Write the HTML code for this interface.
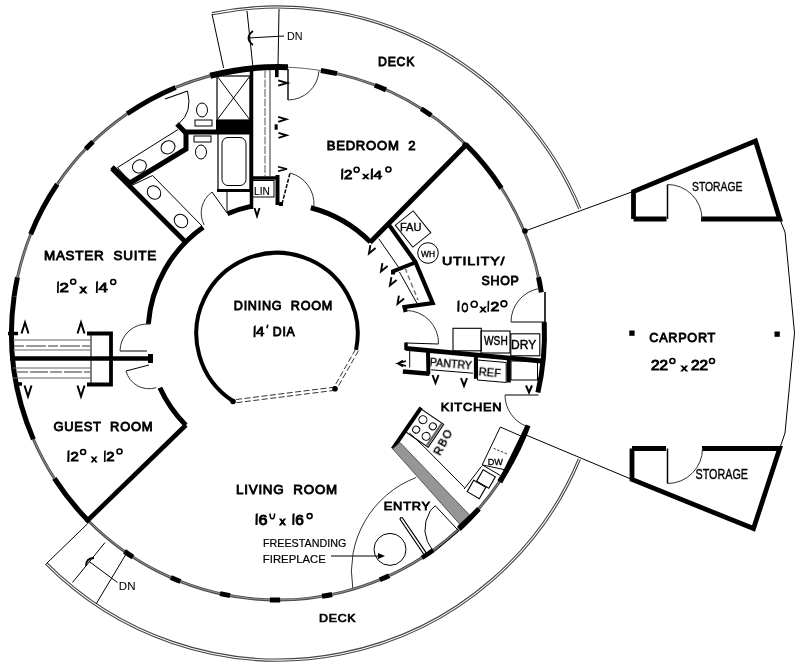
<!DOCTYPE html>
<html><head><meta charset="utf-8"><style>
html,body{margin:0;padding:0;background:#fff;}
svg{display:block;font-family:"Liberation Sans",sans-serif;}
text{will-change:transform;}
</style></head><body>
<svg width="800" height="663" viewBox="0 0 800 663">
<path d="M212.27 14.81A325.4 325.4 0 0 1 578.69 209.13" stroke="#444" stroke-width="1.1" fill="none" />
<path d="M578.34 458.72A325.4 325.4 0 0 1 46.92 562.60" stroke="#444" stroke-width="1.1" fill="none" />
<path d="M211.83 12.65A327.6 327.6 0 0 1 580.73 208.29" stroke="#444" stroke-width="1.1" fill="none" />
<path d="M580.37 459.57A327.6 327.6 0 0 1 45.36 564.15" stroke="#444" stroke-width="1.1" fill="none" />
<path d="M88.81 521.20A266.5 266.5 0 0 1 54.37 478.46" stroke="#000" stroke-width="5" fill="none" />
<path d="M54.37 478.46A266.5 266.5 0 0 1 33.44 439.38" stroke="#4d4d4d" stroke-width="2.9" fill="none" />
<path d="M54.37 478.46A266.5 266.5 0 0 1 33.44 439.38" stroke="#9a9a9a" stroke-width="0.9" fill="none" />
<path d="M33.44 439.38A266.5 266.5 0 0 1 14.12 296.23" stroke="#000" stroke-width="5" fill="none" />
<path d="M14.12 296.23A266.5 266.5 0 0 1 17.49 277.32" stroke="#000" stroke-width="5" fill="none" />
<path d="M17.49 277.32A266.5 266.5 0 0 1 30.66 234.27" stroke="#4d4d4d" stroke-width="2.9" fill="none" />
<path d="M17.49 277.32A266.5 266.5 0 0 1 30.66 234.27" stroke="#9a9a9a" stroke-width="0.9" fill="none" />
<path d="M30.66 234.27A266.5 266.5 0 0 1 57.26 184.18" stroke="#000" stroke-width="5" fill="none" />
<path d="M57.26 184.18A266.5 266.5 0 0 1 127.21 113.76" stroke="#4d4d4d" stroke-width="2.9" fill="none" />
<path d="M57.26 184.18A266.5 266.5 0 0 1 127.21 113.76" stroke="#9a9a9a" stroke-width="0.9" fill="none" />
<path d="M127.21 113.76A266.5 266.5 0 0 1 175.61 87.46" stroke="#000" stroke-width="5" fill="none" />
<path d="M175.61 87.46A266.5 266.5 0 0 1 210.20 75.77" stroke="#4d4d4d" stroke-width="2.9" fill="none" />
<path d="M175.61 87.46A266.5 266.5 0 0 1 210.20 75.77" stroke="#9a9a9a" stroke-width="0.9" fill="none" />
<path d="M210.20 75.77A266.5 266.5 0 0 1 287.96 67.19" stroke="#000" stroke-width="6" fill="none" />
<path d="M287.96 67.19A266.5 266.5 0 0 1 320.84 70.47" stroke="#666" stroke-width="1" fill="none" />
<path d="M320.84 70.47A266.5 266.5 0 0 1 337.08 73.63" stroke="#000" stroke-width="5" fill="none" />
<path d="M337.08 73.63A266.5 266.5 0 0 1 465.69 144.30" stroke="#4d4d4d" stroke-width="2.9" fill="none" />
<path d="M337.08 73.63A266.5 266.5 0 0 1 465.69 144.30" stroke="#9a9a9a" stroke-width="0.9" fill="none" />
<path d="M465.69 144.30A266.5 266.5 0 0 1 501.49 188.33" stroke="#000" stroke-width="5" fill="none" />
<path d="M501.49 188.33A266.5 266.5 0 0 1 538.47 277.12" stroke="#4d4d4d" stroke-width="2.9" fill="none" />
<path d="M501.49 188.33A266.5 266.5 0 0 1 538.47 277.12" stroke="#9a9a9a" stroke-width="0.9" fill="none" />
<path d="M538.47 277.12A266.5 266.5 0 0 1 541.29 292.27" stroke="#000" stroke-width="5" fill="none" />
<path d="M544.25 322.03A266.5 266.5 0 0 1 537.88 392.52" stroke="#000" stroke-width="5" fill="none" />
<path d="M528.15 425.42A266.5 266.5 0 0 1 499.51 481.67" stroke="#000" stroke-width="5" fill="none" />
<path d="M499.51 481.67A266.5 266.5 0 0 1 478.75 508.78" stroke="#4d4d4d" stroke-width="2.9" fill="none" />
<path d="M499.51 481.67A266.5 266.5 0 0 1 478.75 508.78" stroke="#9a9a9a" stroke-width="0.9" fill="none" />
<path d="M478.75 508.78A266.5 266.5 0 0 1 459.01 529.09" stroke="#000" stroke-width="5" fill="none" />
<path d="M459.01 529.09A266.5 266.5 0 0 1 433.32 550.06" stroke="#4d4d4d" stroke-width="2.9" fill="none" />
<path d="M459.01 529.09A266.5 266.5 0 0 1 433.32 550.06" stroke="#9a9a9a" stroke-width="0.9" fill="none" />
<path d="M433.32 550.06A266.5 266.5 0 0 1 421.88 557.82" stroke="#000" stroke-width="4.5" fill="none" />
<path d="M421.88 557.82A266.5 266.5 0 0 1 88.81 521.20" stroke="#4d4d4d" stroke-width="2.9" fill="none" />
<path d="M421.88 557.82A266.5 266.5 0 0 1 88.81 521.20" stroke="#9a9a9a" stroke-width="0.9" fill="none" />
<path d="M85.73 148.96A266.5 266.5 0 0 1 92.95 141.72" stroke="#000" stroke-width="5" fill="none" />
<path d="M132.95 557.07A266.5 266.5 0 0 1 124.48 551.34" stroke="#000" stroke-width="5" fill="none" />
<path d="M180.35 581.46A266.5 266.5 0 0 1 170.90 577.53" stroke="#000" stroke-width="5" fill="none" />
<path d="M230.09 595.66A266.5 266.5 0 0 1 220.06 593.63" stroke="#000" stroke-width="5" fill="none" />
<path d="M280.12 599.99A266.5 266.5 0 0 1 269.88 599.88" stroke="#000" stroke-width="5" fill="none" />
<path d="M332.10 594.45A266.5 266.5 0 0 1 322.05 596.34" stroke="#000" stroke-width="5" fill="none" />
<path d="M389.15 575.72A266.5 266.5 0 0 1 379.77 579.80" stroke="#000" stroke-width="5" fill="none" />
<path d="M374.82 85.21A266.5 266.5 0 0 1 385.98 89.86" stroke="#000" stroke-width="5" fill="none" />
<path d="M421.22 108.76A266.5 266.5 0 0 1 431.27 115.49" stroke="#000" stroke-width="5" fill="none" />
<circle cx="525" cy="231" r="2.8"/>
<circle cx="465" cy="145" r="2.8"/>
<path d="M203.15 227.21A130 130 0 0 0 148.36 323.88" stroke="#000" stroke-width="5" fill="none" />
<path d="M159.87 387.76A130 130 0 0 0 185.83 425.17" stroke="#000" stroke-width="5" fill="none" />
<path d="M227.33 213.78A130 130 0 0 1 250.76 206.39" stroke="#000" stroke-width="5" fill="none" />
<path d="M310.81 207.71A130 130 0 0 1 370.42 242.08" stroke="#000" stroke-width="5" fill="none" />
<path d="M233.16 401.25A80.7 80.7 0 1 1 356.04 349.80" stroke="#000" stroke-width="4" fill="none" />
<path d="M355.61 349.21 L333.61 387.91" stroke="#333" stroke-width="1" fill="none" stroke-dasharray="6 2.5"/>
<path d="M358.39 350.79 L336.39 389.49" stroke="#333" stroke-width="1" fill="none" stroke-dasharray="6 2.5"/>
<path d="M334.80 387.11 L232.80 399.91" stroke="#333" stroke-width="1" fill="none" stroke-dasharray="6 2.5"/>
<path d="M335.20 390.29 L233.20 403.09" stroke="#333" stroke-width="1" fill="none" stroke-dasharray="6 2.5"/>
<circle cx="233" cy="401.5" r="2.8"/>
<circle cx="335" cy="388.7" r="2.8"/>
<path d="M10.00 358.50 L152.00 358.50" stroke="#000" stroke-width="4.6" fill="none" />
<path d="M148 354 L153 354 L153 363 L148 363 Z"/>
<path d="M8.00 333.50 L18.00 333.50" stroke="#000" stroke-width="3.5" fill="none" />
<path d="M15.00 384.00 L22.00 384.00" stroke="#000" stroke-width="3.5" fill="none" />
<path d="M87.00 333.50 L111.00 333.50 L111.00 384.50 L87.00 384.50" stroke="#000" stroke-width="3.8" fill="none" />
<path d="M91.00 335.00 L91.00 383.00" stroke="#000" stroke-width="1" fill="none" />
<path d="M13.00 340.00 L91.00 340.00" stroke="#666" stroke-width="1" fill="none" />
<path d="M13.00 350.00 L91.00 350.00" stroke="#666" stroke-width="1" fill="none" />
<path d="M13.00 368.00 L91.00 368.00" stroke="#666" stroke-width="1" fill="none" />
<path d="M13.00 378.00 L91.00 378.00" stroke="#666" stroke-width="1" fill="none" />
<path d="M14.00 346.00 L90.00 346.00" stroke="#777" stroke-width="1.6" fill="none" stroke-dasharray="10 2 20 2"/>
<path d="M16.00 372.00 L90.00 372.00" stroke="#777" stroke-width="1.6" fill="none" stroke-dasharray="12 2 18 2"/>
<path d="M21.5 322.5 L25.0 333.5 L28.5 322.5" stroke="#000" stroke-width="2" fill="none" stroke-linejoin="miter" transform="rotate(180 25 328)"/>
<path d="M77.5 322.5 L81.0 333.5 L84.5 322.5" stroke="#000" stroke-width="2" fill="none" stroke-linejoin="miter" transform="rotate(180 81 328)"/>
<path d="M24.5 385.5 L28.0 396.5 L31.5 385.5" stroke="#000" stroke-width="2" fill="none" stroke-linejoin="miter" transform="rotate(0 28 391)"/>
<path d="M77.5 385.5 L81.0 396.5 L84.5 385.5" stroke="#000" stroke-width="2" fill="none" stroke-linejoin="miter" transform="rotate(0 81 391)"/>
<path d="M147.00 351.00 L120.00 351.00" stroke="#000" stroke-width="1" fill="none" />
<path d="M120.00 351.00A27.0 27.0 0 0 1 149.98 324.17" stroke="#333" stroke-width="1" fill="none" />
<path d="M149.00 365.00 L126.00 371.00" stroke="#000" stroke-width="1" fill="none" />
<path d="M126.00 371.00A23.769728648009426 23.769728648009426 0 0 0 156.24 387.64" stroke="#333" stroke-width="1" fill="none" />
<path d="M186.00 425.00 L86.00 522.00" stroke="#000" stroke-width="4.6" fill="none" />
<path d="M112.00 168.50 L185.00 241.50" stroke="#000" stroke-width="4.8" fill="none" />
<path d="M177.00 124.00 L185.00 132.00 L251.00 132.00" stroke="#000" stroke-width="5" fill="none" />
<path d="M186.00 130.00 L186.00 149.00 L130.00 183.00" stroke="#000" stroke-width="5" fill="none" />
<path d="M112.00 167.00 L131.00 184.00" stroke="#000" stroke-width="5" fill="none" />
<path d="M117.50 167.50 L178.00 129.50" stroke="#000" stroke-width="1" fill="none" />
<path d="M117.50 167.50 L131.00 183.00" stroke="#000" stroke-width="1" fill="none" />
<ellipse cx="139.4" cy="166.4" rx="7.2" ry="6.3" transform="rotate(-33 139.4 166.4)" fill="none" stroke="#000" stroke-width="1"/>
<ellipse cx="168" cy="147.3" rx="7.2" ry="6.3" transform="rotate(-33 168 147.3)" fill="none" stroke="#000" stroke-width="1"/>
<path d="M131.60 185.50 L152.50 175.50 L202.00 226.00" stroke="#000" stroke-width="1" fill="none" />
<ellipse cx="154" cy="192.5" rx="7.2" ry="6.3" transform="rotate(45 154 192.5)" fill="none" stroke="#000" stroke-width="1"/>
<ellipse cx="181" cy="221" rx="7.2" ry="6.3" transform="rotate(45 181 221)" fill="none" stroke="#000" stroke-width="1"/>
<path d="M165.00 99.00 L187.50 91.00" stroke="#000" stroke-width="1.2" fill="none" />
<path d="M187.5 91 Q193 112 178.5 124" stroke="#000" stroke-width="1" fill="none" />
<ellipse cx="202" cy="110" rx="5.5" ry="7" fill="none" stroke="#000" stroke-width="1"/>
<rect x="195" y="120" width="17" height="6" fill="none" stroke="#000" stroke-width="1"/>
<rect x="194" y="136" width="17" height="6" fill="none" stroke="#000" stroke-width="1"/>
<ellipse cx="201" cy="152" rx="5.5" ry="7" fill="none" stroke="#000" stroke-width="1"/>
<rect x="217" y="76" width="33" height="44" fill="none" stroke="#000" stroke-width="1.2"/>
<path d="M217.00 76.00 L250.00 120.00" stroke="#000" stroke-width="1" fill="none" />
<path d="M250.00 76.00 L217.00 120.00" stroke="#000" stroke-width="1" fill="none" />
<rect x="216" y="120" width="35" height="13" fill="#000"/>
<rect x="218" y="133" width="32" height="57" fill="none" stroke="#000" stroke-width="1.2"/>
<rect x="222" y="137.5" width="24" height="48" rx="6" fill="none" stroke="#000" stroke-width="1"/>
<path d="M217.00 190.50 L251.00 190.50" stroke="#000" stroke-width="3" fill="none" />
<path d="M251.50 66.00 L251.50 209.00" stroke="#000" stroke-width="3.5" fill="none" />
<path d="M227.00 192.00 L227.00 211.00" stroke="#000" stroke-width="1" fill="none" />
<path d="M227.00 213.00 L212.00 192.00" stroke="#000" stroke-width="1" fill="none" />
<path d="M212.00 192.00A25.80697580112788 25.80697580112788 0 0 0 204.10 224.91" stroke="#333" stroke-width="1" fill="none" />
<path d="M465.00 146.00 L370.00 242.50" stroke="#000" stroke-width="4.8" fill="none" />
<path d="M265.00 70.00 L265.00 176.00" stroke="#888" stroke-width="1.4" fill="none" stroke-dasharray="8 1.5"/>
<path d="M270.00 70.00 L270.00 176.00" stroke="#333" stroke-width="1" fill="none" />
<path d="M251.00 178.00 L277.00 178.00" stroke="#000" stroke-width="3.5" fill="none" />
<rect x="252.5" y="180.5" width="21.5" height="16.5" fill="none" stroke="#000" stroke-width="1"/>
<path d="M277.50 175.00 L277.50 205.00" stroke="#000" stroke-width="4" fill="none" />
<path d="M279.00 204.00 L283.00 204.00" stroke="#000" stroke-width="4" fill="none" />
<rect x="275" y="66" width="3.6" height="11.2"/>
<path d="M288.00 69.00 L288.00 100.00" stroke="#000" stroke-width="1.4" fill="none" />
<path d="M288.00 100.00A31.0 31.0 0 0 0 318.94 70.93" stroke="#333" stroke-width="1" fill="none" />
<path d="M282.00 204.00 L290.00 173.00" stroke="#000" stroke-width="1.5" fill="none" stroke-dasharray="4 1.5"/>
<path d="M290.00 173.00A32.01562118716424 32.01562118716424 0 0 1 313.94 206.13" stroke="#333" stroke-width="1" fill="none" />
<path d="M280.1 78.5 L282.7 87.5 L285.3 78.5" stroke="#000" stroke-width="1.9" fill="none" stroke-linejoin="miter" transform="rotate(-90 282.7 83)"/>
<path d="M279.7 115.3 L282.2 123.3 L284.7 115.3" stroke="#000" stroke-width="1.9" fill="none" stroke-linejoin="miter" transform="rotate(-90 282.2 119.3)"/>
<path d="M280.0 131.3 L282.5 139.3 L285.0 131.3" stroke="#000" stroke-width="1.9" fill="none" stroke-linejoin="miter" transform="rotate(-90 282.5 135.3)"/>
<path d="M280.2 164.5 L282.5 173.5 L284.8 164.5" stroke="#000" stroke-width="1.7" fill="none" stroke-linejoin="miter" transform="rotate(-90 282.5 169)"/>
<path d="M254.5 208.0 L257.0 216.0 L259.5 208.0" stroke="#000" stroke-width="1.9" fill="none" stroke-linejoin="miter" transform="rotate(0 257 212)"/>
<rect x="274.6" y="124.3" width="3.1" height="5.4"/>
<path d="M388.00 223.50 L415.20 261.50 L432.70 303.00 L404.50 307.00 L405.70 312.00" stroke="#000" stroke-width="4.2" fill="none" />
<path d="M415.20 262.50 L393.00 271.30 L393.00 274.50" stroke="#000" stroke-width="4" fill="none" />
<path d="M378.80 238.80 L398.60 267.30" stroke="#000" stroke-width="1" fill="none" />
<path d="M399.40 272.00 L416.80 303.00" stroke="#000" stroke-width="1" fill="none" />
<path d="M405.00 268.00 L418.00 300.00" stroke="#777" stroke-width="1.5" fill="none" stroke-dasharray="5 3"/>
<path d="M368.0 246.0 L371.0 254.0 L374.0 246.0" stroke="#000" stroke-width="1.9" fill="none" stroke-linejoin="miter" transform="rotate(30 371 250)"/>
<path d="M380.0 264.0 L383.0 272.0 L386.0 264.0" stroke="#000" stroke-width="1.9" fill="none" stroke-linejoin="miter" transform="rotate(30 383 268)"/>
<path d="M389.0 278.0 L392.0 286.0 L395.0 278.0" stroke="#000" stroke-width="1.9" fill="none" stroke-linejoin="miter" transform="rotate(30 392 282)"/>
<path d="M396.5 296.5 L399.5 304.5 L402.5 296.5" stroke="#000" stroke-width="1.9" fill="none" stroke-linejoin="miter" transform="rotate(30 399.5 300.5)"/>
<rect x="-11.5" y="-14" width="23" height="28" fill="none" stroke="#000" stroke-width="1" transform="translate(413 229) rotate(-38.7)"/>
<circle cx="428" cy="253" r="10.3" fill="none" stroke="#000" stroke-width="1"/>
<path d="M406.00 343.00 L438.50 344.00" stroke="#000" stroke-width="1" fill="none" />
<path d="M438.50 344.00A32.515380975778214 32.515380975778214 0 0 0 406.00 310.48" stroke="#333" stroke-width="1" fill="none" />
<path d="M545.00 322.00 L511.00 322.00" stroke="#000" stroke-width="1" fill="none" />
<path d="M511.00 322.00A34.0 34.0 0 0 1 539.41 288.46" stroke="#333" stroke-width="1" fill="none" />
<path d="M545.00 292.00 L545.00 322.00" stroke="#000" stroke-width="1.6" fill="none" />
<rect x="453" y="328.3" width="28.3" height="22.5" fill="none" stroke="#000" stroke-width="1.1"/>
<rect x="481" y="331" width="29" height="22" fill="none" stroke="#000" stroke-width="1.1"/>
<rect x="510.8" y="333.8" width="29" height="22" fill="none" stroke="#000" stroke-width="1.1"/>
<path d="M405.70 348.40 L541.00 361.00" stroke="#000" stroke-width="4.8" fill="none" />
<path d="M406.00 342.50 L406.00 350.00" stroke="#000" stroke-width="3.5" fill="none" />
<path d="M402.90 371.50 L429.50 373.70" stroke="#000" stroke-width="4.6" fill="none" />
<path d="M428.00 350.50 L428.40 374.30" stroke="#000" stroke-width="4" fill="none" />
<path d="M409.70 350.50 L409.70 367.50" stroke="#000" stroke-width="1" fill="none" />
<path d="M431.20 369.80 L473.00 373.20" stroke="#000" stroke-width="1" fill="none" />
<path d="M475.90 356.20 L475.90 378.80" stroke="#000" stroke-width="4" fill="none" />
<path d="M508.80 360.00 L508.80 382.50" stroke="#000" stroke-width="4" fill="none" />
<path d="M477.50 360.00 L506.20 362.50 L506.20 382.50 L477.50 380.00 Z" fill="none" stroke="#000" stroke-width="1"/>
<rect x="511" y="361" width="26.5" height="19" fill="none" stroke="#000" stroke-width="1"/>
<path d="M406 361 L398 363.5 L406 366 M403 360.5 L398 363.5 L403 366.5" stroke="#000" stroke-width="1.8" fill="none"/>
<path d="M432.5 375.0 L435.5 383.0 L438.5 375.0" stroke="#000" stroke-width="2" fill="none" stroke-linejoin="miter" transform="rotate(0 435.5 379)"/>
<path d="M461.0 378.0 L464.0 386.0 L467.0 378.0" stroke="#000" stroke-width="2" fill="none" stroke-linejoin="miter" transform="rotate(0 464 382)"/>
<path d="M526.0 385.5 L529.0 392.5 L532.0 385.5" stroke="#000" stroke-width="2" fill="none" stroke-linejoin="miter" transform="rotate(0 529 389)"/>
<path d="M538.50 395.00 L505.00 395.00" stroke="#000" stroke-width="1" fill="none" />
<path d="M505.00 395.00A33.5 33.5 0 0 0 526.97 426.45" stroke="#333" stroke-width="1" fill="none" />
<path d="M421.10 407.70 L392.70 448.80" stroke="#000" stroke-width="4" fill="none" />
<path d="M392.70 448.80 L400.00 442.50 L471.80 517.40 L461.20 525.80 Z" fill="#969696" stroke="#555" stroke-width="1"/>
<path d="M409.50 433.00 L424.30 447.00 L464.40 487.50" stroke="#000" stroke-width="1" fill="none" />
<g transform="translate(424.5 428) rotate(34)"><rect x="-13.8" y="-13.8" width="27.6" height="27.6" fill="none" stroke="#000" stroke-width="1.1"/><circle cx="-6" cy="-6" r="4" fill="none" stroke="#000" stroke-width="1"/><circle cx="6" cy="-6" r="3.5" fill="none" stroke="#000" stroke-width="1"/><circle cx="-6" cy="6" r="3.5" fill="none" stroke="#000" stroke-width="1"/><circle cx="6" cy="6" r="4" fill="none" stroke="#000" stroke-width="1"/><line x1="11.8" y1="-13" x2="11.8" y2="13" stroke="#666" stroke-width="2.2"/></g>
<path d="M458.80 528.00 L479.00 509.00" stroke="#000" stroke-width="4.5" fill="none" />
<path d="M527.50 426.40 L500.30 482.20" stroke="#000" stroke-width="4.6" fill="none" />
<path d="M500.30 427.00 L522.00 436.50 L506.00 470.00 L482.20 464.90 Z" fill="none" stroke="#000" stroke-width="1"/>
<path d="M493.50 448.30 L507.90 454.30" stroke="#333" stroke-width="1" fill="none" stroke-dasharray="2.5 1.5"/>
<path d="M482.20 464.90 L500.30 475.40" stroke="#000" stroke-width="1" fill="none" />
<rect x="-7" y="-6.5" width="14" height="13" fill="none" stroke="#000" stroke-width="1.1" transform="translate(486 479) rotate(30)"/>
<rect x="-7" y="-6.5" width="14" height="13" fill="none" stroke="#000" stroke-width="1.1" transform="translate(476.5 489.5) rotate(30)"/>
<path d="M481.50 466.40 L464.10 489.00" stroke="#000" stroke-width="1" fill="none" />
<path d="M430.40 510.50 L435.20 505.70 L458.80 531.00 L434.60 551.50" stroke="#000" stroke-width="1" fill="none" />
<path d="M430.4 510.5 Q418 532 433.4 551.5" stroke="#000" stroke-width="1" fill="none" />
<path d="M401.5 519 L424.4 552.7" stroke="#000" stroke-width="4" stroke-linecap="round"/>
<path d="M401.5 519 L424.4 552.7" stroke="#fff" stroke-width="1.6" stroke-linecap="round"/>
<circle cx="390" cy="549.4" r="16" fill="none" stroke="#000" stroke-width="1"/>
<path d="M331.00 556.00 L383.00 556.00" stroke="#000" stroke-width="1" fill="none" />
<path d="M378 553 L385 556 L378 559 Z"/>
<path d="M416.22 477.48A100.6 100.6 0 0 0 352.76 587.99" stroke="#333" stroke-width="1" fill="none" />
<path d="M212.00 14.00 L223.60 68.00" stroke="#000" stroke-width="1" fill="none" />
<path d="M247.00 11.00 L253.00 68.00" stroke="#000" stroke-width="1" fill="none" />
<path d="M279.00 9.00 L278.00 66.00" stroke="#000" stroke-width="1" fill="none" />
<path d="M284.00 36.00 L248.00 38.00" stroke="#000" stroke-width="1" fill="none" />
<path d="M253 31 Q244 38 253 45" stroke="#000" stroke-width="1.8" fill="none" />
<path d="M87.50 523.80 L46.20 563.80" stroke="#000" stroke-width="1" fill="none" />
<path d="M105.00 542.50 L72.50 582.50" stroke="#000" stroke-width="1" fill="none" />
<path d="M126.20 553.80 L96.20 603.80" stroke="#000" stroke-width="1" fill="none" />
<path d="M117.50 582.50 L88.80 561.20" stroke="#000" stroke-width="1" fill="none" />
<path d="M86 566 Q86 558 94 558" stroke="#000" stroke-width="1.8" fill="none" />
<path d="M525.00 231.00 L633.00 191.50" stroke="#000" stroke-width="1" fill="none" />
<path d="M526.00 435.00 L632.00 479.50" stroke="#000" stroke-width="1" fill="none" />
<path d="M633.50 219.00 L633.50 191.50 L755.50 141.00 L779.70 219.00 L701.00 219.00" stroke="#000" stroke-width="4.8" fill="none" />
<path d="M633.50 219.00 L666.50 219.00" stroke="#000" stroke-width="4.8" fill="none" />
<path d="M632.00 448.50 L666.00 448.50" stroke="#000" stroke-width="4.8" fill="none" />
<path d="M702.00 448.50 L779.70 448.50 L753.50 528.60 L632.00 479.50 L632.00 448.50" stroke="#000" stroke-width="4.8" fill="none" />
<path d="M667.50 219.00 L667.50 184.50" stroke="#000" stroke-width="1.5" fill="none" />
<path d="M667.50 184.50A34.5 34.5 0 0 1 702.00 219.00" stroke="#333" stroke-width="1" fill="none" />
<path d="M667.50 448.50 L667.50 483.50" stroke="#000" stroke-width="1.5" fill="none" />
<path d="M667.50 483.50A35.0 35.0 0 0 0 702.50 448.50" stroke="#333" stroke-width="1" fill="none" />
<path d="M779.70 219.00 L785.00 232.00 L794.50 333.00 L785.00 433.00 L779.70 448.50" stroke="#000" stroke-width="1" fill="none" />
<rect x="629.3" y="330.5" width="5.3" height="5.3"/>
<rect x="774.5" y="331.5" width="5.3" height="5.3"/>
<text x="0" y="0" font-size="14" stroke="#000" fill="#000" stroke-width="0.95" letter-spacing="0.8" transform="matrix(0.8780 0 0 0.8750 378.12 66.12)" style="white-space:pre">DECK</text>
<text x="0" y="0" font-size="14" stroke="#000" fill="#000" stroke-width="0.95" letter-spacing="0.8" transform="matrix(0.8854 0 0 0.7250 319.11 621.77)" style="white-space:pre">DECK</text>
<text x="0" y="0" font-size="14" stroke="#000" fill="#000" stroke-width="0.95" letter-spacing="0.8" transform="matrix(0.9041 0 0 0.8583 649.30 341.84)" style="white-space:pre">CARPORT</text>
<text x="0" y="0" font-size="11" stroke="#000" fill="#000" stroke-width="0.3" letter-spacing="0" transform="matrix(0.9434 0 0 1.1875 692.00 190.80)" style="white-space:pre">STORAGE</text>
<text x="0" y="0" font-size="11" stroke="#000" fill="#000" stroke-width="0.3" letter-spacing="0" transform="matrix(0.9811 0 0 1.2750 695.50 479.00)" style="white-space:pre">STORAGE</text>
<text x="0" y="0" font-size="14" stroke="#000" fill="#000" stroke-width="0.95" letter-spacing="0.8" transform="matrix(0.9603 0 0 0.9167 43.94 259.88)" style="white-space:pre">MASTER  SUITE</text>
<text x="0" y="0" font-size="14" stroke="#000" fill="#000" stroke-width="0.95" letter-spacing="0.8" transform="matrix(0.9243 0 0 0.8750 53.50 430.62)" style="white-space:pre">GUEST  ROOM</text>
<text x="0" y="0" font-size="14" stroke="#000" fill="#000" stroke-width="0.95" letter-spacing="0.8" transform="matrix(0.9362 0 0 0.8583 326.66 149.74)" style="white-space:pre">BEDROOM  2</text>
<text x="0" y="0" font-size="14" stroke="#000" fill="#000" stroke-width="0.95" letter-spacing="0.8" transform="matrix(0.9028 0 0 0.8750 233.80 310.12)" style="white-space:pre">DINING  ROOM</text>
<text x="0" y="0" font-size="14" stroke="#000" fill="#000" stroke-width="0.95" letter-spacing="0.8" transform="matrix(0.9548 0 0 0.8833 236.05 493.52)" style="white-space:pre">LIVING  ROOM</text>
<text x="0" y="0" font-size="14" stroke="#000" fill="#000" stroke-width="0.95" letter-spacing="0.8" transform="matrix(1.0164 0 0 0.8000 441.98 264.60)" style="white-space:pre">UTILITY/</text>
<text x="0" y="0" font-size="14" stroke="#000" fill="#000" stroke-width="0.95" letter-spacing="0.8" transform="matrix(0.8833 0 0 0.8667 481.60 284.53)" style="white-space:pre">SHOP</text>
<text x="0" y="0" font-size="14" stroke="#000" fill="#000" stroke-width="0.95" letter-spacing="0.8" transform="matrix(0.9200 0 0 0.8167 440.68 410.78)" style="white-space:pre">KITCHEN</text>
<text x="0" y="0" font-size="14" stroke="#000" fill="#000" stroke-width="0.95" letter-spacing="0.8" transform="matrix(0.9204 0 0 0.8167 383.78 509.78)" style="white-space:pre">ENTRY</text>
<text x="0" y="0" font-size="11" stroke="#000" fill="#000" stroke-width="0.2" letter-spacing="0" transform="matrix(0.9774 0 0 1.0125 262.92 547.20)" style="white-space:pre">FREESTANDING</text>
<text x="0" y="0" font-size="11" stroke="#000" fill="#000" stroke-width="0.2" letter-spacing="0" transform="matrix(1.0300 0 0 1.0125 262.87 562.70)" style="white-space:pre">FIREPLACE</text>
<text x="0" y="0" font-size="10" stroke="#000" fill="#000" stroke-width="0.05" letter-spacing="0" transform="matrix(1.0769 0 0 1.0000 286.92 40.00)" style="white-space:pre">DN</text>
<text x="0" y="0" font-size="10" stroke="#000" fill="#000" stroke-width="0.05" letter-spacing="0" transform="matrix(1.1538 0 0 1.1250 118.85 590.00)" style="white-space:pre">DN</text>
<text x="0" y="0" font-size="10" stroke="#000" fill="#000" stroke-width="0.15" letter-spacing="0" transform="matrix(1.0143 0 0 1.1250 253.99 194.60)" style="white-space:pre">LIN</text>
<text x="0" y="0" font-size="10" stroke="#000" fill="#000" stroke-width="0.35" letter-spacing="0" transform="matrix(1.1111 0 0 1.0625 399.89 230.50)" style="white-space:pre">FAU</text>
<text x="0" y="0" font-size="9" stroke="#000" fill="#000" stroke-width="0.35" letter-spacing="0" transform="matrix(0.9333 0 0 1.0833 421.00 256.50)" style="white-space:pre">WH</text>
<text x="0" y="0" font-size="10" stroke="#000" fill="#000" stroke-width="0.35" letter-spacing="0" transform="matrix(1.0174 0 0 1.2875 484.00 345.40)" style="white-space:pre">WSH</text>
<text x="0" y="0" font-size="10" stroke="#000" fill="#000" stroke-width="0.35" letter-spacing="0" transform="matrix(1.2050 0 0 1.2000 511.00 348.90)" style="white-space:pre">DRY</text>
<text x="0" y="0" font-size="10" stroke="#000" fill="#000" stroke-width="0.35" letter-spacing="0" transform="matrix(0.9187 0 0 0.9750 487.68 464.50)" style="white-space:pre">DW</text>
<text x="0" y="0" font-size="14" stroke="#000" fill="#000" stroke-width="0.95" letter-spacing="0" transform="matrix(1.2000 0 0 0.9636 59.60 292.04)" style="white-space:pre">2</text>
<text x="0" y="0" font-size="12" stroke="#000" fill="#000" stroke-width="1.0" letter-spacing="0" transform="matrix(1.1667 0 0 0.8667 79.70 292.93)" style="white-space:pre">x</text>
<text x="0" y="0" font-size="14" stroke="#000" fill="#000" stroke-width="0.95" letter-spacing="0" transform="matrix(1.2000 0 0 0.8833 98.60 292.12)" style="white-space:pre">4</text>
<text x="0" y="0" font-size="14" stroke="#000" fill="#000" stroke-width="0.95" letter-spacing="0" transform="matrix(1.0750 0 0 0.8909 343.90 178.61)" style="white-space:pre">2</text>
<text x="0" y="0" font-size="12" stroke="#000" fill="#000" stroke-width="1.0" letter-spacing="0" transform="matrix(1.0833 0 0 0.7222 362.60 178.78)" style="white-space:pre">x</text>
<text x="0" y="0" font-size="14" stroke="#000" fill="#000" stroke-width="0.95" letter-spacing="0" transform="matrix(1.1125 0 0 0.8167 373.60 178.68)" style="white-space:pre">4</text>
<text x="0" y="0" font-size="14" stroke="#000" fill="#000" stroke-width="0.95" letter-spacing="0" transform="matrix(1.0625 0 0 0.9636 70.60 461.14)" style="white-space:pre">2</text>
<text x="0" y="0" font-size="12" stroke="#000" fill="#000" stroke-width="1.0" letter-spacing="0" transform="matrix(0.9500 0 0 0.8111 91.30 461.69)" style="white-space:pre">x</text>
<text x="0" y="0" font-size="14" stroke="#000" fill="#000" stroke-width="0.95" letter-spacing="0" transform="matrix(1.0625 0 0 0.9636 106.30 461.14)" style="white-space:pre">2</text>
<text x="0" y="0" font-size="14" stroke="#000" fill="#000" stroke-width="0.95" letter-spacing="0" transform="matrix(0.6273 0 0 0.9182 461.40 311.80)" style="white-space:pre">O</text>
<text x="0" y="0" font-size="12" stroke="#000" fill="#000" stroke-width="1.0" letter-spacing="0" transform="matrix(1.0167 0 0 0.8000 480.00 311.70)" style="white-space:pre">x</text>
<text x="0" y="0" font-size="14" stroke="#000" fill="#000" stroke-width="0.95" letter-spacing="0" transform="matrix(1.1250 0 0 0.9182 490.60 310.88)" style="white-space:pre">2</text>
<text x="0" y="0" font-size="14" stroke="#000" fill="#000" stroke-width="0.95" letter-spacing="0" transform="matrix(1.1500 0 0 1.0500 258.50 525.10)" style="white-space:pre">6</text>
<text x="0" y="0" font-size="12" stroke="#000" fill="#000" stroke-width="1.0" letter-spacing="0" transform="matrix(1.0167 0 0 0.8333 279.50 524.67)" style="white-space:pre">x</text>
<text x="0" y="0" font-size="14" stroke="#000" fill="#000" stroke-width="0.95" letter-spacing="0" transform="matrix(1.1000 0 0 1.0500 295.20 525.10)" style="white-space:pre">6</text>
<text x="0" y="0" font-size="14" stroke="#000" fill="#000" stroke-width="0.95" letter-spacing="0" transform="matrix(1.0933 0 0 0.9818 651.10 369.92)" style="white-space:pre">22</text>
<text x="0" y="0" font-size="12" stroke="#000" fill="#000" stroke-width="1.0" letter-spacing="0" transform="matrix(1.0833 0 0 0.7778 681.10 370.52)" style="white-space:pre">x</text>
<text x="0" y="0" font-size="14" stroke="#000" fill="#000" stroke-width="0.95" letter-spacing="0" transform="matrix(1.0933 0 0 0.9818 690.90 369.92)" style="white-space:pre">22</text>
<text x="0" y="0" font-size="14" stroke="#000" fill="#000" stroke-width="0.95" letter-spacing="0" transform="matrix(1.0625 0 0 0.8667 256.10 336.43)" style="white-space:pre">4</text>
<text x="0" y="0" font-size="14" stroke="#000" fill="#000" stroke-width="0.95" letter-spacing="0.8" transform="matrix(0.8792 0 0 0.8667 272.82 336.43)" style="white-space:pre">DIA</text>
<text x="0" y="0" font-size="10" stroke="#000" fill="#000" stroke-width="0.35" letter-spacing="0" transform="rotate(5 452 363) matrix(1.0641 0 0 1.0875 429.94 367.50)" style="white-space:pre">PANTRY</text>
<text x="0" y="0" font-size="10" stroke="#000" fill="#000" stroke-width="0.35" letter-spacing="0" transform="rotate(5 491 372) matrix(1.1053 0 0 1.0625 478.89 376.00)" style="white-space:pre">REF</text>
<circle cx="73.2" cy="281.8" r="2.5" fill="none" stroke="#000" stroke-width="1.6"/>
<circle cx="113.2" cy="282" r="2.5" fill="none" stroke="#000" stroke-width="1.6"/>
<circle cx="356.6" cy="169.8" r="2.5" fill="none" stroke="#000" stroke-width="1.6"/>
<circle cx="388.4" cy="169.5" r="2.5" fill="none" stroke="#000" stroke-width="1.6"/>
<circle cx="83.1" cy="452" r="2.5" fill="none" stroke="#000" stroke-width="1.6"/>
<circle cx="119.5" cy="451.5" r="2.5" fill="none" stroke="#000" stroke-width="1.6"/>
<circle cx="474.2" cy="304.3" r="3" fill="none" stroke="#000" stroke-width="1.6"/>
<circle cx="503.9" cy="303.8" r="2.9" fill="none" stroke="#000" stroke-width="1.6"/>
<circle cx="309.6" cy="516.1" r="2.5" fill="none" stroke="#000" stroke-width="1.6"/>
<circle cx="672.4" cy="361" r="2.5" fill="none" stroke="#000" stroke-width="1.6"/>
<circle cx="712" cy="361" r="2.5" fill="none" stroke="#000" stroke-width="1.6"/>
<path d="M270 513.5 Q270 518.8 272.3 518.8 Q274.6 518.8 274.6 513.5" fill="none" stroke="#000" stroke-width="1.6"/>
<path d="M57.35 282.70 L58.05 282.4 L57.85 293" stroke="#000" stroke-width="1.70" fill="none"/>
<path d="M96.30 282.70 L97.00 282.4 L96.80 293" stroke="#000" stroke-width="1.80" fill="none"/>
<path d="M341.60 170.00 L342.30 169.7 L342.10 179.5" stroke="#000" stroke-width="2.00" fill="none"/>
<path d="M371.25 170.00 L371.95 169.7 L371.75 179.5" stroke="#000" stroke-width="2.10" fill="none"/>
<path d="M67.80 451.80 L68.50 451.5 L68.30 462.1" stroke="#000" stroke-width="2.00" fill="none"/>
<path d="M104.20 451.80 L104.90 451.5 L104.70 462.1" stroke="#000" stroke-width="1.60" fill="none"/>
<path d="M457.80 302.00 L458.50 301.7 L458.30 311.8" stroke="#000" stroke-width="2.00" fill="none"/>
<path d="M487.70 302.00 L488.40 301.7 L488.20 311.8" stroke="#000" stroke-width="1.60" fill="none"/>
<path d="M256.00 514.90 L256.70 514.6 L256.50 525.1" stroke="#000" stroke-width="2.10" fill="none"/>
<path d="M292.80 514.90 L293.50 514.6 L293.30 525.1" stroke="#000" stroke-width="2.10" fill="none"/>
<path d="M254.00 327.20 L254.70 326.9 L254.50 337.3" stroke="#000" stroke-width="2.00" fill="none"/>
<path d="M267.8 324.6 L266.9 328.2" stroke="#000" stroke-width="1.6"/>
<text x="0" y="0" font-size="11" stroke="#000" stroke-width="0.5" letter-spacing="1.5" transform="translate(440 456) rotate(-62)" style="white-space:pre">RBO</text>
</svg></body></html>
